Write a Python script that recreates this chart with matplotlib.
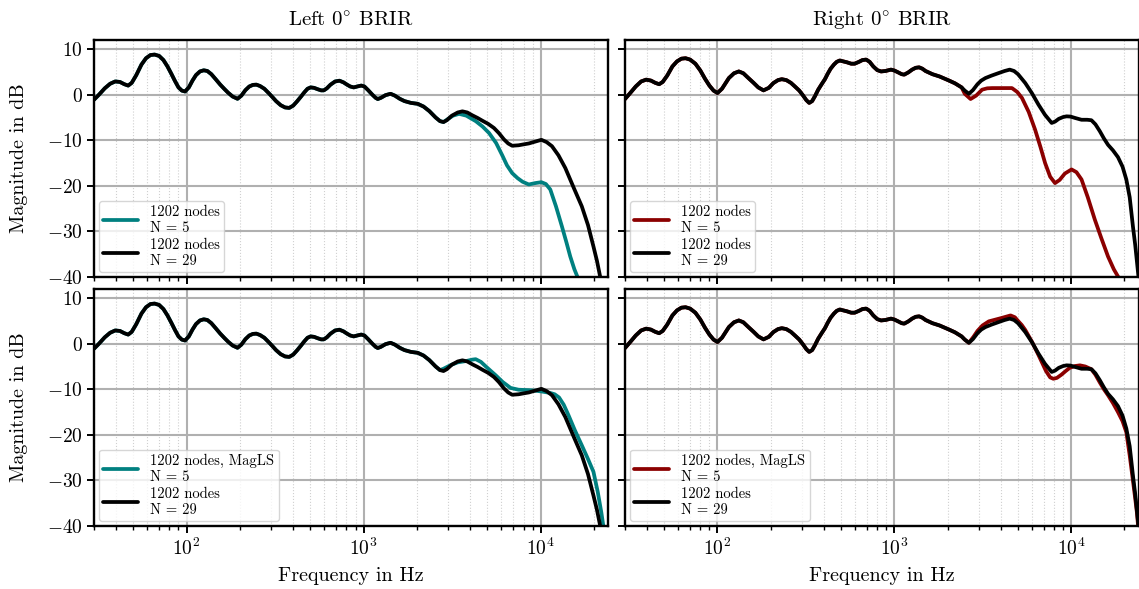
import matplotlib
matplotlib.use("Agg")
import matplotlib.pyplot as plt
from matplotlib.ticker import LogLocator, NullFormatter, MultipleLocator

plt.rcParams['font.family'] = ['cmr10', 'DejaVu Serif']
plt.rcParams['mathtext.fontset'] = 'cm'
plt.rcParams['axes.formatter.use_mathtext'] = True
plt.rcParams['axes.unicode_minus'] = True

# ---------------- data ----------------
# Left ear, common low/mid-frequency part (all left curves coincide here)
left_lf_f = [30, 32, 34.5, 37, 39.5, 42, 44.5, 46.8, 49, 52, 55.6, 59, 62.5, 66, 70, 74, 78,
             82, 86, 90, 94, 98, 103, 108, 113, 119, 125, 131, 138, 146, 155, 164, 172, 182,
             194, 204, 215, 226, 237, 248, 260, 275, 290, 305, 320, 340, 360, 380, 400, 420,
             441, 462, 482, 502, 525, 550, 575, 596, 620, 650, 690, 730, 770, 806, 840, 879,
             920, 970, 1010, 1060, 1120, 1170, 1202, 1250, 1330, 1419, 1500, 1600, 1700, 1850,
             2020, 2180, 2350, 2550, 2700]
left_lf_db = [-1.1, 0.0, 1.4, 2.4, 2.9, 2.8, 2.3, 2.0, 2.6, 4.3, 6.6, 8.0, 8.7, 8.8, 8.5, 7.6, 6.2,
              4.6, 3.0, 1.6, 0.9, 0.7, 1.6, 3.1, 4.3, 5.1, 5.35, 5.2, 4.5, 3.4, 2.2, 1.2, 0.4, -0.4,
              -0.9, -0.2, 1.0, 1.8, 2.15, 2.2, 1.9, 1.3, 0.4, -0.5, -1.4, -2.3, -2.8, -2.9, -2.4, -1.5,
              -0.5, 0.5, 1.3, 1.6, 1.5, 1.2, 0.95, 0.95, 1.4, 2.2, 2.9, 3.07, 2.7, 2.2, 1.8, 1.6,
              1.8, 2.0, 1.8, 1.0, 0.0, -0.7, -0.95, -0.7, -0.1, 0.2, -0.2, -0.9, -1.4, -1.8,
              -2.0, -2.6, -3.6, -5.0, -5.8]

# Left ear, high-frequency tails
left_n29_hf_f = [2826, 2950, 3150, 3400, 3613, 3850, 4100, 4400, 4680, 5050, 5444, 5800, 6200,
                 6550, 6900, 7500, 8000, 8570, 9300, 10090, 10800, 11580, 12600, 13780, 15400,
                 17070, 18500, 19860, 20800, 21640, 23500]
left_n29_hf_db = [-6.0, -5.6, -4.6, -3.9, -3.65, -3.9, -4.5, -5.1, -5.7, -6.4, -7.3, -8.4, -9.8,
                  -10.7, -11.2, -11.1, -10.9, -10.7, -10.3, -9.9, -10.4, -11.3, -13.3, -16.1, -20.5,
                  -24.5, -28.6, -33.3, -36.5, -39.8, -47.0]
left_n5_hf_f = [2826, 3000, 3200, 3460, 3800, 4295, 4700, 5107, 5600, 6067, 6450, 6900, 7400,
                7900, 8570, 9300, 10090, 10700, 11330, 12200, 13180, 14000, 14690, 15500, 16340,
                17500]
left_n5_hf_db = [-6.0, -5.3, -4.6, -4.2, -4.6, -5.8, -7.0, -8.4, -10.6, -13.3, -15.5, -17.2, -18.3,
                 -19.1, -19.7, -19.4, -19.2, -19.6, -20.8, -24.5, -28.9, -32.5, -35.5, -38.3, -40.5,
                 -44.0]
left_mag_hf_f = [2826, 3100, 3400, 3800, 4100, 4295, 4600, 4900, 5200, 5560, 6100, 6760, 7500,
                 8570, 9300, 10180, 11300, 12000, 12700, 13500, 14360, 15600, 17070, 18500, 19860,
                 21000, 22000, 22570, 23500]
left_mag_hf_db = [-5.5, -4.7, -4.1, -3.8, -3.5, -3.4, -4.0, -5.0, -5.9, -6.9, -8.4, -9.7, -10.1,
                  -10.2, -10.3, -10.5, -10.8, -11.1, -11.8, -13.4, -15.7, -19.0, -22.3, -25.3, -28.1,
                  -32.5, -37.0, -39.9, -44.0]

# Right ear, common low/mid-frequency part
right_lf_f = [30, 32, 34.5, 37, 39.5, 42, 44.5, 46.8, 49, 52, 55.6, 59, 62.5, 66, 70, 75, 80,
              85, 90, 95, 100, 106, 111, 116, 124, 132, 140, 150, 160, 170, 182, 195, 207, 220,
              231, 245, 260, 274, 290, 305, 318, 330, 343, 356, 371, 388, 405, 420, 436, 455,
              472, 491, 515, 540, 570, 596, 630, 660, 693, 725, 760, 800, 841, 890, 957, 1000,
              1050, 1100, 1137, 1200, 1260, 1320, 1381, 1440, 1500, 1641, 1800, 2037, 2200, 2400]
right_lf_db = [-0.95, 0.3, 1.8, 2.9, 3.3, 3.1, 2.6, 2.3, 2.8, 4.2, 6.2, 7.3, 7.9, 8.0, 7.7, 6.8, 5.3,
               3.5, 2.0, 0.9, 0.37, 1.3, 2.5, 3.65, 4.7, 5.1, 4.7, 3.6, 2.6, 1.6, 0.95, 1.5, 2.55, 3.2,
               3.4, 3.2, 2.6, 1.8, 0.9, -0.2, -1.2, -1.8, -1.4, -0.3, 1.1, 2.3, 3.4, 4.6, 5.7, 6.6,
               7.2, 7.5, 7.3, 7.1, 6.8, 6.8, 7.2, 7.6, 7.7, 7.2, 6.2, 5.4, 5.1, 5.2, 5.5, 5.3,
               4.9, 4.5, 4.4, 4.9, 5.5, 5.9, 6.0, 5.7, 5.2, 4.5, 4.0, 3.1, 2.5, 1.6]

# Right ear, high-frequency tails
right_n29_hf_f = [2500, 2638, 2780, 2950, 3100, 3272, 3550, 3890, 4200, 4488, 4750, 5000, 5250,
                  5497, 6000, 6531, 7100, 7750, 8100, 8500, 9000, 9410, 9900, 10500, 11430, 12300,
                  13000, 13700, 14500, 15300, 16140, 17200, 18370, 19500, 20480, 21400, 22320,
                  23000, 23500, 24000]
right_n29_hf_db = [0.9, 0.2, 1.0, 2.3, 3.1, 3.65, 4.2, 4.75, 5.2, 5.5, 5.2, 4.5, 3.5,
                   2.55, 0.3, -2.2, -4.4, -6.2, -5.9, -5.3, -4.9, -4.75, -4.8, -5.1, -5.5, -5.5,
                   -5.6, -6.5, -8.0, -9.6, -11.0, -12.2, -13.7, -15.8, -18.6, -22.5, -28.9,
                   -33.0, -36.5, -40.0]
right_n5_hf_f = [2500, 2697, 2900, 3133, 3350, 3567, 4100, 4620, 4950, 5263, 5750, 6250, 6700,
                 7115, 7600, 8095, 8600, 9200, 10040, 10700, 11430, 12400, 13590, 14800, 16140,
                 17400, 18770, 20000]
right_n5_hf_db = [0.2, -0.95, -0.2, 1.1, 1.4, 1.45, 1.45, 1.45, 0.6, -0.7, -3.8, -7.7, -11.5,
                  -15.0, -18.0, -19.4, -18.7, -17.3, -16.4, -17.0, -18.6, -22.5, -27.4, -31.5, -35.5,
                  -38.3, -40.5, -43.0]
right_mag_hf_f = [2500, 2638, 2800, 2950, 3150, 3420, 4000, 4540, 4800, 5000, 5250, 5497, 6000,
                  6531, 7200, 7600, 7925, 8300, 8800, 9300, 9800, 10500, 11200, 12000, 13000, 13700,
                  14500, 15300, 16140, 17200, 18370, 19500, 20480, 21400, 22320, 23000, 23500, 24000]
right_mag_hf_db = [0.9, 0.2, 1.5, 2.8, 4.0, 4.9, 5.6, 6.2, 5.8, 5.0, 4.1, 3.0, 0.4,
                   -2.5, -6.0, -7.4, -7.7, -7.5, -6.8, -6.0, -5.3, -4.9, -4.75, -5.0, -5.6, -6.8,
                   -8.5, -10.0, -11.3, -13.0, -15.0, -17.0, -19.4, -24.5, -30.0, -34.0, -37.0, -41.0]

titles = ["Left $0^{\\circ}$ BRIR", "Right $0^{\\circ}$ BRIR"]
labels_top = ["1202 nodes\nN = 5", "1202 nodes\nN = 29"]
labels_bottom = ["1202 nodes, MagLS\nN = 5", "1202 nodes\nN = 29"]
teal = "#008080"
darkred = "#8b0000"

# ---------------- figure ----------------
fig = plt.figure(figsize=(11.39, 5.89), dpi=100)
W, H = 1139, 589
def ax_at(x0, y0, x1, y1):
    return fig.add_axes([x0 / W, 1 - y1 / H, (x1 - x0) / W, (y1 - y0) / H])

axes = [[ax_at(94, 40, 608, 277), ax_at(625, 40, 1138.5, 277)],
        [ax_at(94, 289, 608, 526), ax_at(625, 289, 1138.5, 526)]]

curves = {
    (0, 0): [(left_lf_f + left_n5_hf_f, left_lf_db + left_n5_hf_db, teal),
             (left_lf_f + left_n29_hf_f, left_lf_db + left_n29_hf_db, 'black')],
    (0, 1): [(right_lf_f + right_n5_hf_f, right_lf_db + right_n5_hf_db, darkred),
             (right_lf_f + right_n29_hf_f, right_lf_db + right_n29_hf_db, 'black')],
    (1, 0): [(left_lf_f + left_mag_hf_f, left_lf_db + left_mag_hf_db, teal),
             (left_lf_f + left_n29_hf_f, left_lf_db + left_n29_hf_db, 'black')],
    (1, 1): [(right_lf_f + right_mag_hf_f, right_lf_db + right_mag_hf_db, darkred),
             (right_lf_f + right_n29_hf_f, right_lf_db + right_n29_hf_db, 'black')],
}

for r in range(2):
    for c in range(2):
        ax = axes[r][c]
        labs = labels_top if r == 0 else labels_bottom
        for (f, d, col), lab in zip(curves[(r, c)], labs):
            ax.plot(f, d, color=col, lw=2.7, label=lab, solid_joinstyle='round',
                    solid_capstyle='round')
        ax.set_xscale('log')
        ax.set_xlim(30, 24000)
        ax.set_ylim(-40, 12)
        ax.yaxis.set_major_locator(MultipleLocator(10))
        ax.xaxis.set_major_locator(LogLocator(base=10, numticks=10))
        ax.xaxis.set_minor_locator(LogLocator(base=10, subs=range(2, 10), numticks=20))
        ax.xaxis.set_minor_formatter(NullFormatter())
        ax.grid(True, which='major', color='#b0b0b0', lw=1.5)
        ax.grid(True, which='minor', axis='x', color='#d0d0d0', lw=0.8, ls=':')
        ax.set_axisbelow(True)
        for s in ax.spines.values():
            s.set_linewidth(1.7)
        ax.tick_params(which='major', direction='out', length=5, width=1.4,
                       labelsize=14, pad=3)
        ax.tick_params(which='minor', direction='out', length=3, width=1.0)
        if r == 0:
            ax.set_title(titles[c], fontsize=15, pad=10)
            ax.tick_params(labelbottom=False)
        else:
            ax.set_xlabel("Frequency in Hz", fontsize=14.5, labelpad=6)
        if c == 0:
            ax.set_ylabel("Magnitude in dB", fontsize=14.5, labelpad=14)
        else:
            ax.tick_params(labelleft=False)
        leg = ax.legend(loc='lower left', fontsize=10.5, handlelength=2.4,
                        borderaxespad=0.35, labelspacing=0.2, handletextpad=0.8,
                        borderpad=0.3, fancybox=True, framealpha=0.8,
                        edgecolor='#cccccc')
        for line in leg.get_lines():
            line.set_linewidth(2.7)

fig.savefig("out.png", dpi=100)
